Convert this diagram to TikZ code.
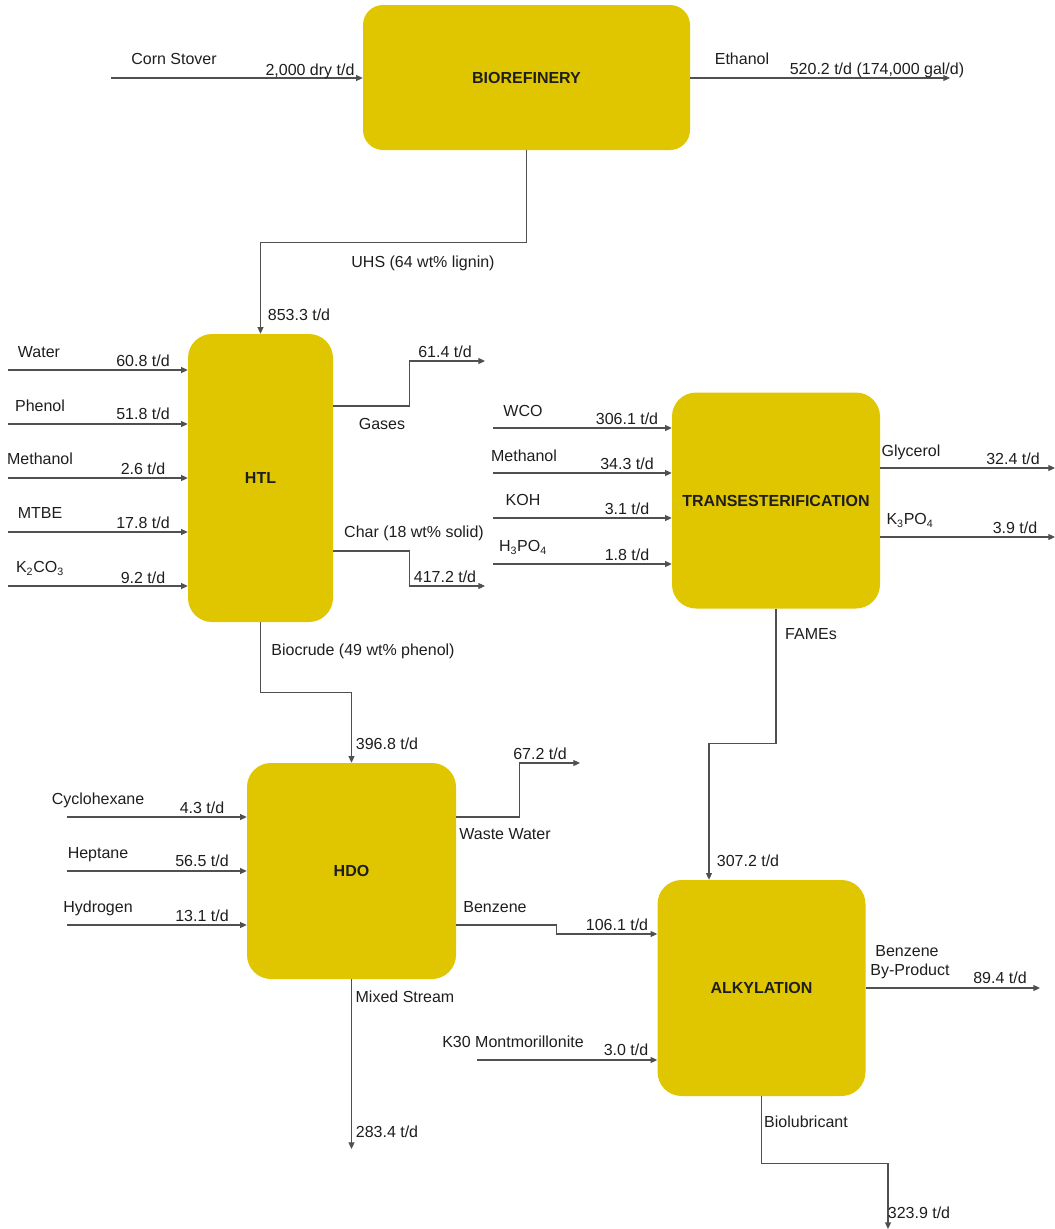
\documentclass[tikz,border=0pt]{standalone}
\usepackage{fontspec}
\setmainfont{Liberation Sans}
\usetikzlibrary{arrows.meta}
\definecolor{boxfill}{RGB}{224,198,0}
\definecolor{linegray}{RGB}{80,80,80}
\definecolor{txt}{RGB}{30,30,30}
\begin{document}
\begin{tikzpicture}[x=0.75pt,y=-0.75pt,
  unit/.style={draw=none,fill=boxfill,rounded corners=18pt,font=\fontsize{12}{14}\selectfont\bfseries,text=txt,inner sep=0pt},
  flow/.style={draw=linegray,line width=0.8pt,-{Triangle[length=5pt,width=4.5pt]}},
  lbl/.style={font=\fontsize{12}{14}\selectfont,text=txt,inner sep=0pt,text height=8.6pt,text depth=0pt}]
\useasboundingbox (0,0) rectangle (1055,1229);

% process units
\node[unit,minimum width=245.25pt,minimum height=108.75pt,rounded corners=15pt] (bio) at (526.5,77.5) {BIOREFINERY};
\node[unit,minimum width=108.75pt,minimum height=216pt] (htl) at (260.5,478) {HTL};
\node[unit,minimum width=156pt,minimum height=162pt] (trans) at (776,500.5) {TRANSESTERIFICATION};
\node[unit,minimum width=156.75pt,minimum height=162pt] (hdo) at (351.5,871) {HDO};
\node[unit,minimum width=156pt,minimum height=162pt] (alk) at (761.5,988) {ALKYLATION};

% free ends
\coordinate (cs) at (111,78);
\coordinate (eth) at (950,78);
\coordinate (inA) at (8,370);
\coordinate (inB) at (8,424);
\coordinate (inC) at (8,478);
\coordinate (inD) at (8,532);
\coordinate (inE) at (8,586);
\coordinate (gasend) at (485,361);
\coordinate (charend) at (485,586);
\coordinate (tA) at (493,428);
\coordinate (tB) at (493,473);
\coordinate (tC) at (493,518);
\coordinate (tD) at (493,564);
\coordinate (glyend) at (1055,468);
\coordinate (kpoend) at (1055,537);
\coordinate (hA) at (67,817);
\coordinate (hB) at (67,871);
\coordinate (hC) at (67,925);
\coordinate (wwend) at (580,763);
\coordinate (msend) at (351.5,1149);
\coordinate (k30) at (477,1060);
\coordinate (bbpend) at (1040,988);
\coordinate (blend) at (888,1229);

% connectors
\draw[flow] (cs) -- (cs -| bio.west);
\draw[flow] (bio.east |- eth) -- (eth);
\draw[flow] (bio.south) -- ++(0,92) -| (htl.north);
\foreach \c in {inA,inB,inC,inD,inE} \draw[flow] (\c) -- (\c -| htl.west);
\draw[flow] (htl.east |- 0,406) -- ++(76,0) |- (gasend);
\draw[flow] (htl.east |- 0,551) -- ++(76,0) |- (charend);
\draw[flow] (htl.south) -- ++(0,70) -| (hdo.north);
\foreach \c in {tA,tB,tC,tD} \draw[flow] (\c) -- (\c -| trans.west);
\draw[flow] (trans.east |- glyend) -- (glyend);
\draw[flow] (trans.east |- kpoend) -- (kpoend);
\draw[flow] (trans.south) -- ++(0,135) -| (709,0 |- alk.north);
\foreach \c in {hA,hB,hC} \draw[flow] (\c) -- (\c -| hdo.west);
\draw[flow] (hdo.east |- 0,817) -- ++(63,0) |- (wwend);
\draw[flow] (hdo.east |- 0,925) -- ++(100,0) -- ++(0,9) -- (alk.west |- 0,934);
\draw[flow] (hdo.south) -- (msend);
\draw[flow] (k30) -- (k30 -| alk.west);
\draw[flow] (alk.east |- bbpend) -- (bbpend);
\draw[flow] (alk.south) -- ++(0,67) -| (blend);

% labels
\node[lbl] (l1) at (174,59) {Corn Stover};
\node[lbl] (l2) at (310,70) {2,000 dry t/d};
\node[lbl] (l3) at (742,59) {Ethanol};
\node[lbl] (l4) at (877,69) {520.2 t/d (174,000 gal/d)};
\node[lbl] (l5) at (423,262) {UHS (64 wt\% lignin)};
\node[lbl] (l6) at (299,315) {853.3 t/d};
\node[lbl] (l7) at (39,352) {Water};
\node[lbl] (l8) at (143,361) {60.8 t/d};
\node[lbl] (l9) at (40,406) {Phenol};
\node[lbl] (l10) at (143,414) {51.8 t/d};
\node[lbl] (l11) at (40,459) {Methanol};
\node[lbl] (l12) at (143,469) {2.6 t/d};
\node[lbl] (l13) at (40,513) {MTBE};
\node[lbl] (l14) at (143,523) {17.8 t/d};
\node[lbl] (l15) at (40,567) {K\textsubscript{2}CO\textsubscript{3}};
\node[lbl] (l16) at (143,578) {9.2 t/d};
\node[lbl] (l17) at (382,424) {Gases};
\node[lbl] (l18) at (445,352) {61.4 t/d};
\node[lbl] (l19) at (414,532) {Char (18 wt\% solid)};
\node[lbl] (l20) at (445,577) {417.2 t/d};
\node[lbl] (l21) at (363,650) {Biocrude (49 wt\% phenol)};
\node[lbl] (l22) at (387,744) {396.8 t/d};
\node[lbl] (l23) at (523,411) {WCO};
\node[lbl] (l24) at (627,419) {306.1 t/d};
\node[lbl] (l25) at (524,456) {Methanol};
\node[lbl] (l26) at (627,464) {34.3 t/d};
\node[lbl] (l27) at (523,500) {KOH};
\node[lbl] (l28) at (627,509) {3.1 t/d};
\node[lbl] (l29) at (523,546) {H\textsubscript{3}PO\textsubscript{4}};
\node[lbl] (l30) at (627,555) {1.8 t/d};
\node[lbl] (l31) at (911,451) {Glycerol};
\node[lbl] (l32) at (1013,459) {32.4 t/d};
\node[lbl] (l33) at (910,519) {K\textsubscript{3}PO\textsubscript{4}};
\node[lbl] (l34) at (1015,528) {3.9 t/d};
\node[lbl] (l35) at (811,634) {FAMEs};
\node[lbl] (l36) at (748,861) {307.2 t/d};
\node[lbl] (l37) at (98,799) {Cyclohexane};
\node[lbl] (l38) at (202,808) {4.3 t/d};
\node[lbl] (l39) at (98,853) {Heptane};
\node[lbl] (l40) at (202,861) {56.5 t/d};
\node[lbl] (l41) at (98,907) {Hydrogen};
\node[lbl] (l42) at (202,916) {13.1 t/d};
\node[lbl] (l43) at (505,834) {Waste Water};
\node[lbl] (l44) at (540,754) {67.2 t/d};
\node[lbl] (l45) at (495,907) {Benzene};
\node[lbl] (l46) at (617,925) {106.1 t/d};
\node[lbl] (l47) at (405,997) {Mixed Stream};
\node[lbl] (l48) at (387,1132) {283.4 t/d};
\node[lbl] (l49) at (907,951) {Benzene};
\node[lbl] (l50) at (910,970) {By-Product};
\node[lbl] (l51) at (1000,978) {89.4 t/d};
\node[lbl] (l52) at (513,1042) {K30 Montmorillonite};
\node[lbl] (l53) at (626,1050) {3.0 t/d};
\node[lbl] (l54) at (806,1122) {Biolubricant};
\node[lbl] (l55) at (919,1213) {323.9 t/d};
\end{tikzpicture}
\end{document}
